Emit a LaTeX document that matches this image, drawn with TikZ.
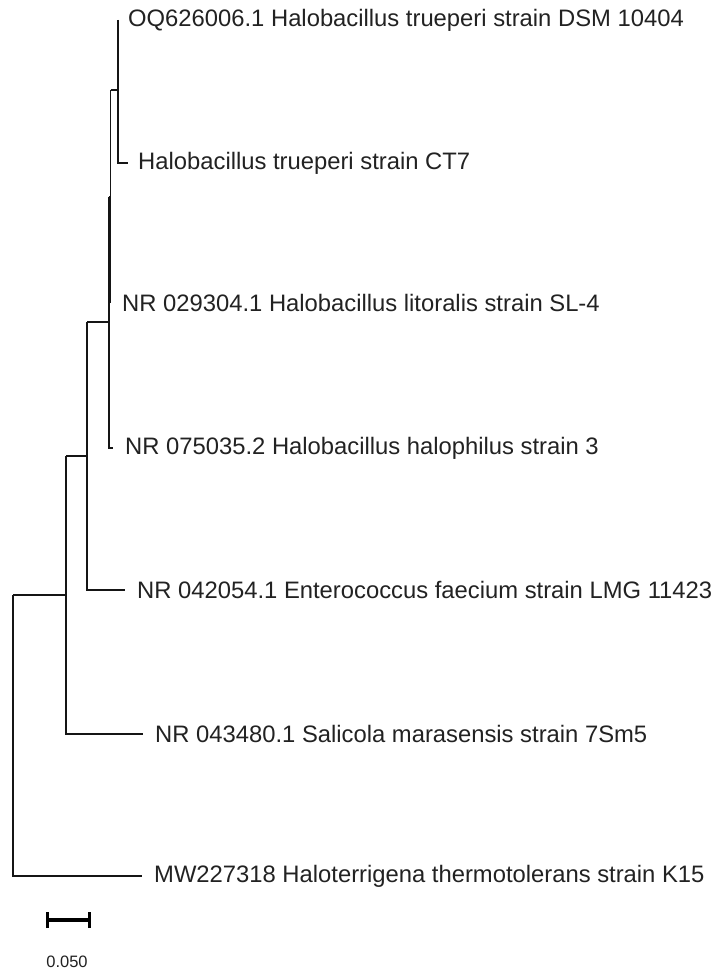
\documentclass[tikz,border=0pt]{standalone}
\usepackage{fontspec}
\setmainfont{Liberation Sans}
\definecolor{txt}{HTML}{222222}
\definecolor{ln}{HTML}{151515}
\begin{document}
\begin{tikzpicture}[x=1pt,y=-1pt,
  br/.style={draw=ln,line width=1.6pt},
  lab/.style={anchor=west,inner sep=0pt,text=txt,font=\fontsize{23.8}{28}\selectfont},
  sbar/.style={draw=black,line width=4pt},
  stick/.style={draw=black,line width=3pt}]
\useasboundingbox[fill=white] (0,0) rectangle (721,974);
% internal nodes
\coordinate (A) at (118,90);
\coordinate (B) at (110.5,196.5);
\coordinate (C) at (108.8,322);
\coordinate (D) at (87,456);
\coordinate (E) at (66,595);
\coordinate (R) at (13,735.5);
% leaf tips
\coordinate (t1) at (118,20);
\coordinate (t2) at (128,163);
\coordinate (t3) at (110.5,303);
\coordinate (t4) at (113,448);
\coordinate (t5) at (125,590);
\coordinate (t6) at (143,734);
\coordinate (t7) at (142,876);
% labels
\node[lab] (l1) at (128,20) {OQ626006.1 Halobacillus trueperi strain DSM 10404};
\node[lab] (l2) at (138,163) {Halobacillus trueperi strain CT7};
\node[lab] (l3) at (122,303) {NR 029304.1 Halobacillus litoralis strain SL-4};
\node[lab] (l4) at (125,448) {NR 075035.2 Halobacillus halophilus strain 3};
\node[lab] (l5) at (137,590) {NR 042054.1 Enterococcus faecium strain LMG 11423};
\node[lab] (l6) at (155,734) {NR 043480.1 Salicola marasensis strain 7Sm5};
\node[lab] (l7) at (154,876) {MW227318 Haloterrigena thermotolerans strain K15};
% branches
\draw[br] (t1) -- (A |- t2) -- (t2);
\draw[br] (B |- A) -- (A);
\draw[br] (B |- A) -- (t3);
\draw[br] (C |- B) -- (B);
\draw[br] (C |- B) -- (C |- t4) -- (t4);
\draw[br] (D |- C) -- (C);
\draw[br] (D |- C) -- (D |- t5) -- (t5);
\draw[br] (E |- D) -- (D);
\draw[br] (E |- D) -- (E |- t6) -- (t6);
\draw[br] (R |- E) -- (E);
\draw[br] (R |- E) -- (R |- t7) -- (t7);
% scale bar
\coordinate (s1) at (47,920);
\coordinate (s2) at (89,920);
\draw[sbar] (s1) -- (s2);
\draw[stick] ([yshift=-8pt]s1) -- ([yshift=8pt]s1);
\draw[stick] ([yshift=-8pt]s2) -- ([yshift=8pt]s2);
\node[text=txt,font=\fontsize{16.5}{20}\selectfont,inner sep=0pt] (sl) at (67,962) {0.050};
\end{tikzpicture}
\end{document}
